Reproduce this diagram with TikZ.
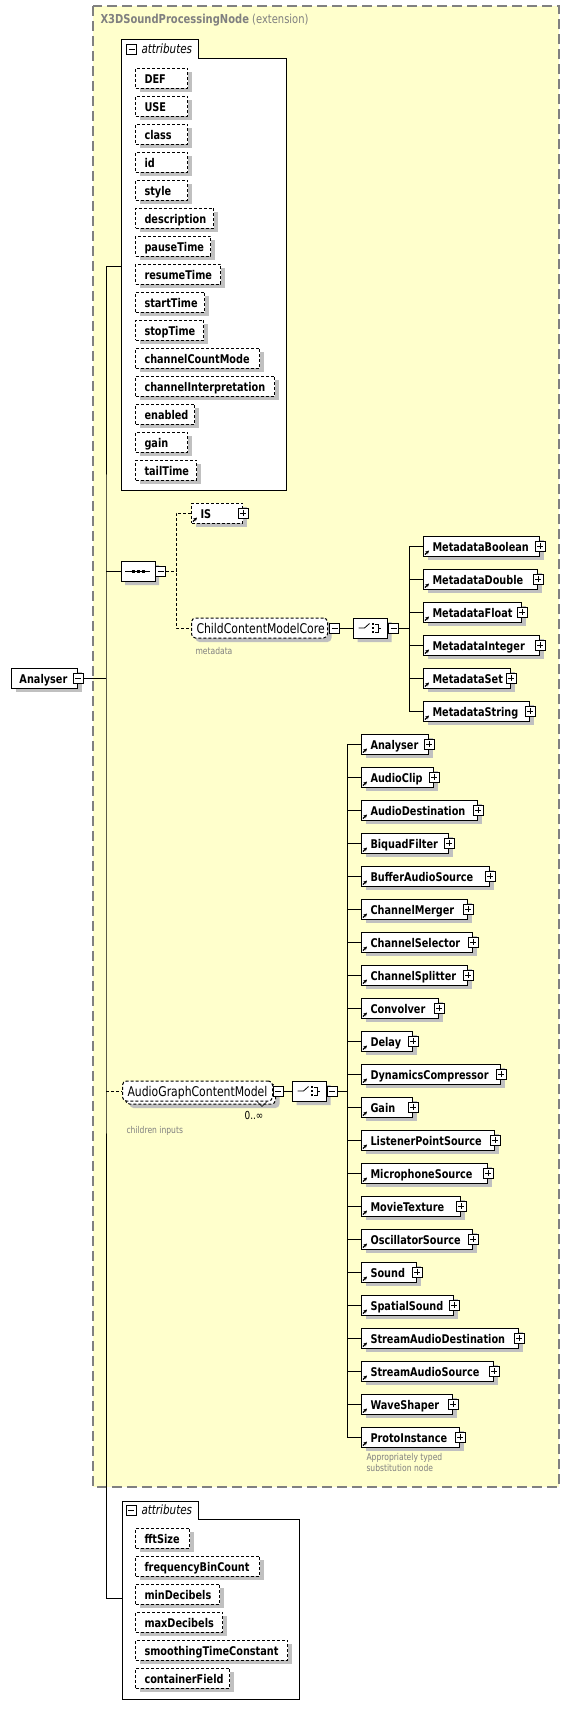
\documentclass[tikz,border=0pt]{standalone}
\usepackage{fontspec}
\setmainfont{DejaVu Sans}[FakeStretch=0.81]
\usetikzlibrary{positioning,arrows.meta,shapes.misc,shadows}
\definecolor{xsyellow}{HTML}{FFFFCC}
\definecolor{xsgray}{HTML}{808080}
\definecolor{xsshadow}{HTML}{C0C0C0}

\begin{document}
\begin{tikzpicture}[x=1pt, y=-1pt, line width=1pt, >=Stealth,
    every node/.style={inner sep=0pt},
    boxshadow/.style={drop shadow={shadow xshift=4pt, shadow yshift=-4pt, fill=xsshadow, opacity=1}},
    xsdash/.style={dash pattern=on 3pt off 2pt},
    namefont/.style={font=\fontsize{12}{14}\selectfont\bfseries},
    elem/.style={draw, fill=white, boxshadow, anchor=west, align=left, text width=#1,
      inner xsep=9pt, minimum height=20pt, text height=11pt, text depth=0pt, namefont},
    optelem/.style={elem=#1, xsdash},
    grp/.style={draw, fill=white, xsdash, rounded corners=4pt, anchor=west, align=left, text width=#1,
      inner xsep=5pt, minimum height=20pt, text height=10.5pt, text depth=0pt, font=\fontsize{13.4}{15}\selectfont},
    compositor/.style={draw, fill=white, boxshadow, chamfered rectangle, chamfered rectangle xsep=5pt,
      chamfered rectangle ysep=5pt, minimum width=34pt, minimum height=20pt},
    plusbox/.style={draw, fill=white, minimum size=10pt, line width=0.8pt,
      path picture={\draw ([xshift=2pt]path picture bounding box.west) -- ([xshift=-2pt]path picture bounding box.east)
        ([yshift=-2pt]path picture bounding box.north) -- ([yshift=2pt]path picture bounding box.south);}},
    minusbox/.style={draw, fill=white, minimum size=10pt, line width=0.8pt,
      path picture={\draw ([xshift=2pt]path picture bounding box.west) -- ([xshift=-2pt]path picture bounding box.east);}},
    tabtext/.style={anchor=west, font=\fontsize{12.8}{14}\selectfont\itshape},
    note/.style={font=\fontsize{9.4}{11}\selectfont, text=xsgray, align=left},
    link/.style={-{Stealth[length=3.5pt,width=3.5pt]}, line width=1.2pt}]
  \useasboundingbox (0,0) rectangle (570,1719);

  % extension frame
  \draw[draw=xsgray, fill=xsyellow, line width=1.2pt, dash pattern=on 10pt off 5pt] (93,6) rectangle (559,1487);
  \node[anchor=base west, text=xsgray, font=\fontsize{12.3}{14}\selectfont] (ext) at (100,23)
    {\textbf{X3DSoundProcessingNode} (extension)};

  % root element
  \node[draw, fill=white, boxshadow, anchor=west, align=left, text width=50pt, inner xsep=8pt,
    minimum height=20pt, text height=11pt, text depth=0pt, namefont] (root) at (11,678) {Analyser};
  \node[minusbox] (root-m) at (root.east) {};
  \coordinate (trunk) at (106,678);
  \draw (root-m.east) -- (trunk);

  % inherited attributes
  \draw[fill=white] (121,39) -- (198,39) -- (198,58) -- (286,58) -- (286,490) -- (121,490) -- cycle;
  \node[minusbox] (attA-m) at (131.5,49) {};
  \node[tabtext] (attA-t) at (141,49) {attributes};
  \foreach \nm/\tw [count=\i from 0] in {DEF/34, USE/34, class/34, id/34, style/34, description/60,
      pauseTime/57, resumeTime/67, startTime/51, stopTime/50, channelCountMode/106,
      channelInterpretation/121, enabled/41, gain/34, tailTime/43} {
    \node[optelem=\tw pt] (at\i) at (135,{78+28*\i}) {\mbox{\nm}};
  }
  \coordinate (attA) at (121,266);
  \coordinate (attB) at (122,1598);
  \draw (attA) -| (trunk) |- (attB);

  % sequence: IS and metadata
  \node[compositor] (seq) at (138,571) {};
  \draw ([xshift=-13pt]seq.center) -- ([xshift=12pt]seq.center);
  \foreach \dx in {-5,0,5}
    \fill ([shift={({\dx-1.5},-1.5)}]seq.center) rectangle ++(3,3);
  \node[minusbox] (seq-m) at ([xshift=5pt]seq.east) {};
  \draw (trunk |- seq) -- (seq.west);
  \coordinate (seqfork) at (176,571);
  \draw[xsdash] (seq-m.east) -- (seqfork);

  \node[optelem=33pt] (is) at (191,513) {IS};
  \node[plusbox] (is-p) at (is.east) {};
  \draw[link] ([shift={(2,-2)}]is.south west) -- ++(4,-4);

  \node[grp=126pt, boxshadow] (ccmc) at (191,628) {ChildContentModelCore};
  \node[minusbox] (ccmc-m) at ([xshift=6.5pt]ccmc.east) {};
  \node[note, anchor=west] (ccmc-n) at (195,651) {metadata};
  \draw[xsdash] (is.west) -| (seqfork) |- (ccmc.west);

  \node[compositor] (chA) at (370.5,628) {};
  \node[minusbox] (chA-m) at ([xshift=5.5pt]chA.east) {};
  \draw (ccmc-m.east) -- (chA.west);
  \coordinate (mdfork) at (409,628);
  \draw (chA-m.east) -- (mdfork);
  \foreach \nm/\tw [count=\i from 0] in {MetadataBoolean/98, MetadataDouble/96, MetadataFloat/80,
      MetadataInteger/98, MetadataSet/69, MetadataString/88} {
    \node[elem=\tw pt] (md\i) at (423,{546+33*\i}) {\mbox{\nm}};
    \node[plusbox] (md\i-p) at (md\i.east) {};
    \draw[link] ([shift={(2,-2)}]md\i.south west) -- ++(4,-4);
    \draw (md\i.west) -| (mdfork);
  }

  % children inputs
  \node[grp=140pt, boxshadow] (agback) at (125,1094) {};
  \node[grp=140pt] (agcm) at (122,1091) {AudioGraphContentModel};
  \draw[line width=0.6pt] ([xshift=-16pt]agcm.south east) -- ++(5,5) -- ++(5,-5);
  \node[minusbox] (agcm-m) at ([xshift=5pt]agcm.east) {};
  \node[font=\fontsize{11}{12}\selectfont] (agcm-o) at (254,1115) {0..∞};
  \node[note, anchor=west] (agcm-n) at (126,1131) {children inputs};
  \draw[xsdash] (trunk |- agcm) -- (agcm.west);

  \node[compositor] (chB) at (309.5,1091) {};
  \node[minusbox] (chB-m) at ([xshift=5pt]chB.east) {};
  \draw (agcm-m.east) -- (chB.west);
  \coordinate (agfork) at (347,1091);
  \draw (chB-m.east) -- (agfork);

  \foreach \c in {chA,chB} {
    \draw[line width=0.8pt] ([xshift=-12pt]\c.center) -- ([xshift=-6pt]\c.center) -- ([shift={(-1,-4.5)}]\c.center);
    \foreach \dy in {-4,0,4}
      \fill ([shift={(1,{\dy-1.2})}]\c.center) rectangle ++(2.4,2.4);
    \draw[line width=0.8pt] ([shift={(4.5,-4)}]\c.center) -- ++(3,0) -- ++(0,8) -- ++(-3,0)
      ([shift={(7.5,0)}]\c.center) -- ++(3,0);
  }

  \foreach \nm/\tw [count=\i from 0] in {Analyser/49, AudioClip/54, AudioDestination/98,
      BiquadFilter/69, BufferAudioSource/110, ChannelMerger/88, ChannelSelector/93,
      ChannelSplitter/88, Convolver/59, Delay/33, DynamicsCompressor/121, Gain/33,
      ListenerPointSource/115, MicrophoneSource/108, MovieTexture/81, OscillatorSource/93,
      Sound/37, SpatialSound/74, StreamAudioDestination/139, StreamAudioSource/114,
      WaveShaper/73, ProtoInstance/80} {
    \node[elem=\tw pt] (ag\i) at (361,{744+33*\i}) {\mbox{\nm}};
    \node[plusbox] (ag\i-p) at (ag\i.east) {};
    \draw[link] ([shift={(2,-2)}]ag\i.south west) -- ++(4,-4);
    \draw (ag\i.west) -| (agfork);
  }
  \node[note, anchor=north west] (ag21-n) at (366,1453) {Appropriately typed\\substitution node};

  % own attributes
  \draw[fill=white] (122,1501) -- (198,1501) -- (198,1519) -- (299,1519) -- (299,1699) -- (122,1699) -- cycle;
  \node[minusbox] (attB-m) at (131,1510) {};
  \node[tabtext] (attB-t) at (141,1510) {attributes};
  \foreach \nm/\tw [count=\i from 0] in {fftSize/36, frequencyBinCount/106, minDecibels/66,
      maxDecibels/69, smoothingTimeConstant/134, containerField/76} {
    \node[optelem=\tw pt] (bt\i) at (135,{1538+28*\i}) {\mbox{\nm}};
  }
\end{tikzpicture}
\end{document}
